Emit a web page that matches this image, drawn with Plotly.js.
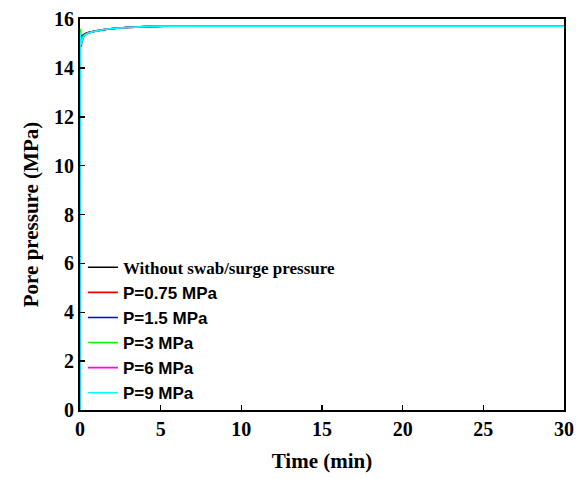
<!DOCTYPE html>
<html>
<head>
<meta charset="utf-8">
<script src="https://cdn.plot.ly/plotly-3.0.1.min.js"></script>
<style>html,body{margin:0;padding:0;background:#fff;}</style>
</head>
<body>
<div id="chart" style="width:581px;height:479px;"></div>
<script>
const seriesNames = ["Without swab/surge pressure", "P=0.75 MPa", "P=1.5 MPa", "P=3 MPa", "P=6 MPa", "P=9 MPa"];
const seriesColors = ["#000000", "#ff0000", "#0000ff", "#00ff00", "#ff00ff", "#00ffff"];
const time = [0, 0.01, 0.03, 0.06, 0.1, 0.2, 0.3, 0.5, 0.75, 1, 1.5, 2, 3, 4, 5, 6, 8, 10, 15, 20, 25, 30];
const pNone = [0, 15.55, 15.35, 15.28, 15.3, 15.36, 15.4, 15.45, 15.49, 15.52, 15.57, 15.61, 15.66, 15.69, 15.71, 15.72, 15.72, 15.72, 15.72, 15.72, 15.72, 15.72];
const p075  = [0, 15.5, 15.25, 15.2, 15.24, 15.33, 15.38, 15.44, 15.48, 15.52, 15.57, 15.61, 15.66, 15.69, 15.71, 15.72, 15.72, 15.72, 15.72, 15.72, 15.72, 15.72];
const p15   = [0, 15.45, 15.1, 15.0, 15.1, 15.28, 15.35, 15.43, 15.48, 15.51, 15.57, 15.61, 15.66, 15.69, 15.71, 15.72, 15.72, 15.72, 15.72, 15.72, 15.72, 15.72];
const p3    = [0, 15.6, 15.3, 15.15, 15.18, 15.3, 15.36, 15.43, 15.48, 15.51, 15.57, 15.61, 15.66, 15.69, 15.71, 15.72, 15.72, 15.72, 15.72, 15.72, 15.72, 15.72];
const p6    = [0, 15.4, 15.0, 14.85, 15.0, 15.24, 15.33, 15.42, 15.47, 15.51, 15.57, 15.61, 15.66, 15.69, 15.71, 15.72, 15.72, 15.72, 15.72, 15.72, 15.72, 15.72];
const p9    = [0, 15.45, 15.05, 14.95, 15.05, 15.26, 15.34, 15.42, 15.47, 15.51, 15.57, 15.61, 15.66, 15.69, 15.71, 15.71, 15.71, 15.71, 15.71, 15.71, 15.71, 15.71];
const seriesValues = [pNone, p075, p15, p3, p6, p9];
const xTicks = [0, 5, 10, 15, 20, 25, 30];
const yTicks = [0, 2, 4, 6, 8, 10, 12, 14, 16];

const serif = "Liberation Serif";
const tickStyle = t => '<span style="font-family:Liberation Serif;font-size:20px;font-weight:bold">' + t + '</span>';

const traces = seriesValues.map((v, i) => ({
  x: time, y: v, type: "scatter", mode: "lines",
  name: i === 0 ? seriesNames[i] : '<span style="font-family:Liberation Sans">' + seriesNames[i] + '</span>',
  line: {color: seriesColors[i], width: 1.6}
}));

const layout = {
  width: 581, height: 479,
  margin: {l: 80, r: 17, t: 19, b: 69},
  font: {family: serif, size: 20, color: "#000", weight: "bold"},
  showlegend: true,
  legend: {
    x: 0.006, y: 0.41, xanchor: "left", yanchor: "top",
    bgcolor: "rgba(0,0,0,0)",
    font: {family: serif, size: 17, color: "#000", weight: "bold"},
    tracegroupgap: 0
  },
  xaxis: {
    range: [0, 30], tickmode: "array", tickvals: xTicks, ticktext: xTicks.map(tickStyle),
    ticks: "inside", ticklen: 5, tickwidth: 1.5, tickcolor: "#000",
    showline: true, linewidth: 2, linecolor: "#000", mirror: true,
    showgrid: false, zeroline: false,
    tickfont: {family: serif, size: 20, color: "#000", weight: "bold"},
    title: {text: "<b>Time (min)</b>", font: {family: serif, size: 21, color: "#000"}, standoff: 14}
  },
  yaxis: {
    range: [0, 16], tickmode: "array", tickvals: yTicks, ticktext: yTicks.map(tickStyle),
    ticks: "inside", ticklen: 5, tickwidth: 1.5, tickcolor: "#000",
    showline: true, linewidth: 2, linecolor: "#000", mirror: true,
    showgrid: false, zeroline: false,
    tickfont: {family: serif, size: 20, color: "#000", weight: "bold"},
    title: {text: "<b>Pore pressure (MPa)</b>", font: {family: serif, size: 21, color: "#000"}, standoff: 10}
  }
};

Plotly.newPlot("chart", traces, layout, {staticPlot: true});
</script>
</body>
</html>
